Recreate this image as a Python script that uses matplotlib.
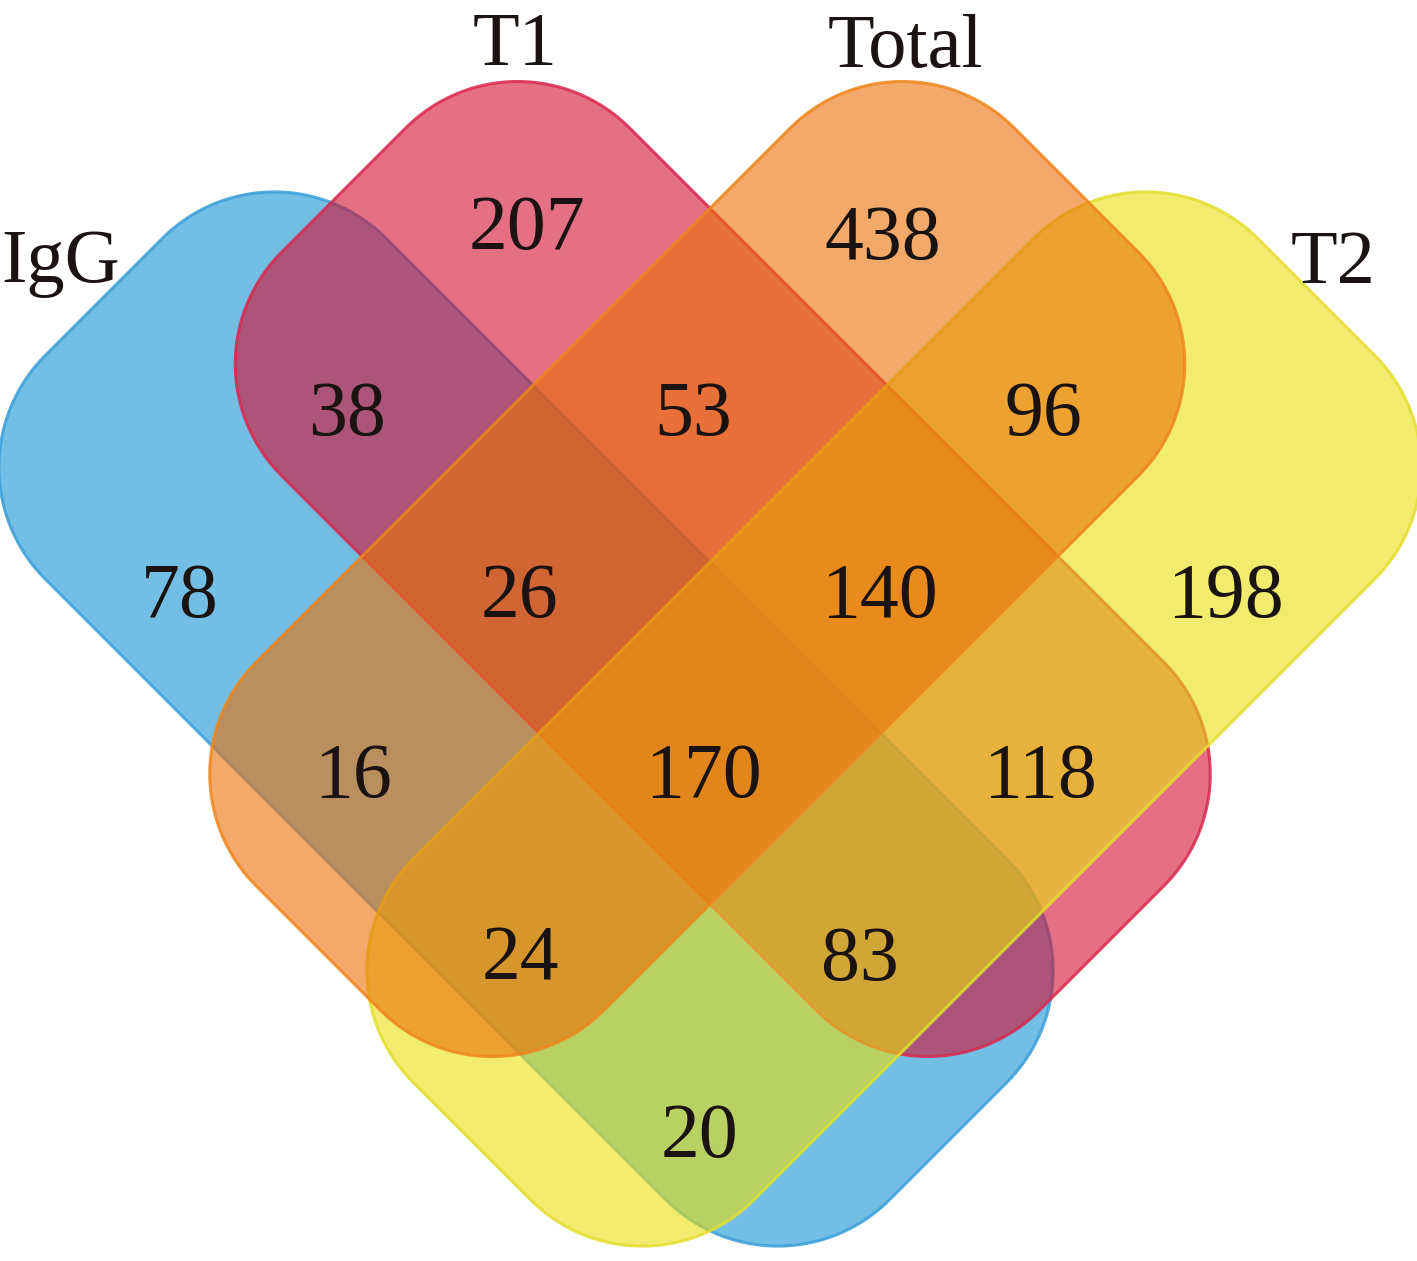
import numpy as np
import matplotlib.pyplot as plt
from matplotlib.patches import Polygon

# set names and region counts
set_names = ["IgG", "T1", "Total", "T2"]
regions = ["IgG", "T1", "Total", "T2",
           "IgG&T1", "T1&Total", "Total&T2",
           "IgG&T1&Total", "T1&Total&T2",
           "IgG&Total", "IgG&T1&Total&T2", "T1&T2",
           "IgG&Total&T2", "IgG&T1&T2", "IgG&T2"]
counts = [78, 207, 438, 198, 38, 53, 96, 26, 140, 16, 170, 118, 24, 83, 20]

# layout (pixel coords, y down)
label_xy = [(180, 590), (527, 222), (883, 232), (1225, 590),
            (347, 408), (693, 408), (1043, 408),
            (520, 590), (880, 590),
            (353, 770), (703, 770), (1040, 770),
            (520, 953), (860, 953), (700, 1130)]
name_xy = [(61, 282), (515, 65), (905, 67), (1333, 283)]

# shape: center, half length, half width, direction of long axis
axis_x = 710
shapes = {
    "IgG":   dict(c=(526, 719), L=597, W=241, d=(1, 1)),
    "T1":    dict(c=(722.75, 569), L=536, W=246, d=(1, 1)),
    "T2":    dict(c=(2 * axis_x - 526, 719), L=597, W=241, d=(-1, 1)),
    "Total": dict(c=(2 * axis_x - 722.75, 569), L=536, W=246, d=(-1, 1)),
}
fills = {"IgG": "#1693D2", "T1": "#D40F30", "T2": "#E8DF0D", "Total": "#EB7007"}
edges = {"IgG": "#3A9FD8", "T1": "#D9284F", "T2": "#E3DE2E", "Total": "#EF861C"}
draw_order = ["IgG", "T1", "T2", "Total"]
R = 158


def rounded_rect(L, W, r, n=40):
    pts = []
    corners = [(L - r, W - r, 0), (-(L - r), W - r, 90),
               (-(L - r), -(W - r), 180), (L - r, -(W - r), 270)]
    for cx, cy, a0 in corners:
        t = np.radians(np.linspace(a0, a0 + 90, n))
        pts.append(np.column_stack([cx + r * np.cos(t), cy + r * np.sin(t)]))
    return np.vstack(pts)


fig = plt.figure(figsize=(14.17, 12.61), dpi=100)
ax = fig.add_axes([0, 0, 1, 1])
ax.set_xlim(0, 1417)
ax.set_ylim(1261, 0)
ax.axis("off")

for name in draw_order:
    s = shapes[name]
    loc = rounded_rect(s["L"], s["W"], R)
    u = np.array(s["d"], dtype=float) / np.sqrt(2)
    v = np.array([u[1], -u[0]])
    xy = np.array(s["c"]) + loc[:, :1] * u + loc[:, 1:] * v
    fc = plt.matplotlib.colors.to_rgba(fills[name], 0.6)
    ec = plt.matplotlib.colors.to_rgba(edges[name], 0.85)
    ax.add_patch(Polygon(xy, closed=True, facecolor=fc, edgecolor=ec, linewidth=2.2))

font = "Liberation Serif"
for (x, y), n in zip(label_xy, counts):
    ax.text(x, y + 27, str(n), ha="center", va="baseline", fontsize=56,
            family=font, color="#1a1311")

for (x, y), name in zip(name_xy, set_names):
    ax.text(x, y, name, ha="center", va="baseline", fontsize=55,
            family=font, color="#1a1311")

fig.savefig("out.png", dpi=100)
